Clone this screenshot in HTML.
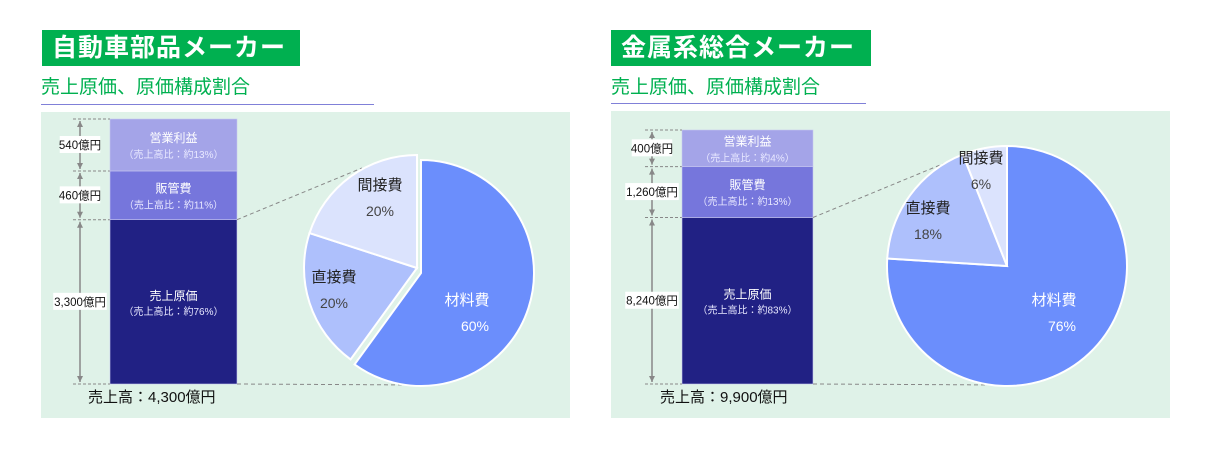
<!DOCTYPE html>
<html><head><meta charset="utf-8">
<style>
body{margin:0;width:1230px;height:450px;background:#fff;font-family:"Liberation Sans","Noto Sans CJK JP",sans-serif;overflow:hidden;position:relative}
.title{position:absolute;background:#00b050;color:#fff;font-weight:bold;font-size:25px;height:36px;line-height:36px;padding-left:10px;box-sizing:border-box;letter-spacing:1px}
.sub{position:absolute;color:#00b050;font-size:19px;line-height:22px}
.ul{position:absolute;height:1px;background:#8080d8}
svg{position:absolute;left:0;top:0}
</style></head><body>
<div class="title" style="left:42px;top:30px;width:258px">自動車部品メーカー</div>
<div class="sub" style="left:41px;top:77px">売上原価、原価構成割合</div>
<div class="ul" style="left:41px;top:104px;width:333px"></div>
<div class="title" style="left:611px;top:30px;width:260px">金属系総合メーカー</div>
<div class="sub" style="left:611px;top:77px">売上原価、原価構成割合</div>
<div class="ul" style="left:611px;top:103px;width:255px"></div>
<svg id="chart" width="1230" height="450"></svg>
<script>
const segNames=["売上原価","販管費","営業利益"];
const leftValues=[3300,460,540];
const leftLabels=["3,300億円","460億円","540億円"];
const leftPct=["約76%","約11%","約13%"];
const leftTotal="4,300億円";
const rightValues=[8240,1260,400];
const rightLabels=["8,240億円","1,260億円","400億円"];
const rightPct=["約83%","約13%","約4%"];
const rightTotal="9,900億円";
const pieNames=["材料費","直接費","間接費"];
const leftPie=[60,20,20];
const rightPie=[76,18,6];

const NS="http://www.w3.org/2000/svg";
const svg=document.getElementById('chart');
const segColors=["#212184","#7676dc","#a4a4e8"];
const pieColors=["#6b8efc","#aec0fc","#dbe3fd"];
function mk(tag,attrs,parent){const e=document.createElementNS(NS,tag);for(const k in attrs)e.setAttribute(k,attrs[k]);(parent||svg).appendChild(e);return e;}
function txt(x,y,s,size,fill,anchor,parent){const t=mk('text',{x:x,y:y,'font-size':size,fill:fill,'text-anchor':anchor||'middle'},parent);t.textContent=s;return t;}

function drawPanel(p){
  mk('rect',{x:p.bx,y:p.by,width:p.bw,height:p.bh,fill:"#dff2e8"});
  // bar segment heights: offset + linear scale
  const k=(p.bottom-p.top-3*p.off)/p.values.reduce((a,b)=>a+b,0);
  const hs=p.values.map(v=>p.off+v*k);
  let y=p.bottom;const bounds=[p.bottom];
  const g=mk('g',{});
  
  
  p.values.forEach((v,i)=>{
    const y0=y-hs[i];
    const r=mk('rect',{x:p.barX,y:y0,width:p.barW,height:hs[i],fill:segColors[i],stroke:"#c8c8f0",'stroke-width':0.6},g);
    
    
    const cx=p.barX+p.barW/2,cy=y0+hs[i]/2;
    const big=i===0;
    txt(cx,cy-2+(big?0:-1),segNames[i],12,"#fff","middle",g);
    txt(cx,cy+13,"（売上高比："+p.pct[i]+"）",10,"#e8e8ff","middle",g);
    // dimension arrow
    const ax=p.barX-30;
    mk('line',{x1:ax,y1:y0+2,x2:ax,y2:y-2,stroke:"#888",'stroke-width':1.5},g);
    mk('path',{d:`M${ax-3},${y0+8}L${ax},${y0+2}L${ax+3},${y0+8}Z M${ax-3},${y-8}L${ax},${y-2}L${ax+3},${y-8}Z`,fill:"#888"},g);
    mk('line',{x1:p.barX-37,y1:y0,x2:p.barX,y2:y0,stroke:"#888",'stroke-dasharray':"3,2"},g);
    const lw=p.labels[i].length*6.5+8;
    mk('rect',{x:ax-lw/2,y:cy-9,width:lw,height:17,fill:"#fff"},g);
    const lt=txt(ax,cy+4,p.labels[i],11.5,"#111","middle",g);
    
    
    y=y0;bounds.push(y0);
  });
  mk('line',{x1:p.barX-37,y1:p.bottom,x2:p.barX,y2:p.bottom,stroke:"#888",'stroke-dasharray':"3,2"});
  const tt=txt(p.barX-22,p.bottom+18,"売上高："+p.total,15,"#111","start");
  
  
  // pie
  const tot=p.pie.reduce((a,b)=>a+b,0);
  const rad=a=>(a-90)*Math.PI/180;
  // connectors
  const cut=bounds[1];
  const angEnd=360;
  mk('line',{x1:p.barX+p.barW,y1:cut,x2:p.conX,y2:p.conY,stroke:"#888",'stroke-dasharray':"4,3"});
  mk('line',{x1:p.barX+p.barW,y1:p.bottom,x2:p.cx,y2:p.bottom+1,stroke:"#888",'stroke-dasharray':"4,3"});
  let a=0;
  p.pie.forEach((v,i)=>{
    const a1=a+v/tot*360;
    const ox=i===0?0:p.ex[0],oy=i===0?0:p.ex[1];
    const cx=p.cx+ox,cy=p.cy+oy,r=p.r;
    const x0=cx+r*Math.cos(rad(a)),y0=cy+r*Math.sin(rad(a));
    const x1=cx+r*Math.cos(rad(a1)),y1=cy+r*Math.sin(rad(a1));
    const lg=(a1-a)>180?1:0;
    const s=mk('path',{d:`M${cx},${cy}L${x0},${y0}A${r},${r} 0 ${lg} 1 ${x1},${y1}Z`,fill:pieColors[i],stroke:"#fff",'stroke-width':2});
    
    
    const pos=p.lab[i];
    const c=i===0?"#fff":"#222";
    txt(pos[0],pos[1],pieNames[i],15,c,"middle");
    txt(pos[0]+(i===0?8:0),pos[1]+26,v+"%",14,i===0?"#fff":"#444","middle");
    a=a1;
  });
}
drawPanel({id:"left",bx:41,by:112,bw:529,bh:306,barX:110,barW:127,top:119,bottom:384,off:30,values:leftValues,labels:leftLabels,pct:leftPct,total:leftTotal,pie:leftPie,cx:421,cy:273,r:113,ex:[-4,-5],conX:362,conY:168,lab:[[467,305],[334,282],[380,190]]});
drawPanel({id:"right",bx:611,by:111,bw:559,bh:307,barX:682,barW:131,top:130,bottom:384,off:30,values:rightValues,labels:rightLabels,pct:rightPct,total:rightTotal,pie:rightPie,cx:1007,cy:266,r:120,ex:[0,0],conX:945,conY:163,lab:[[1054,305],[928,213],[981,163]]});
</script>
</body></html>
